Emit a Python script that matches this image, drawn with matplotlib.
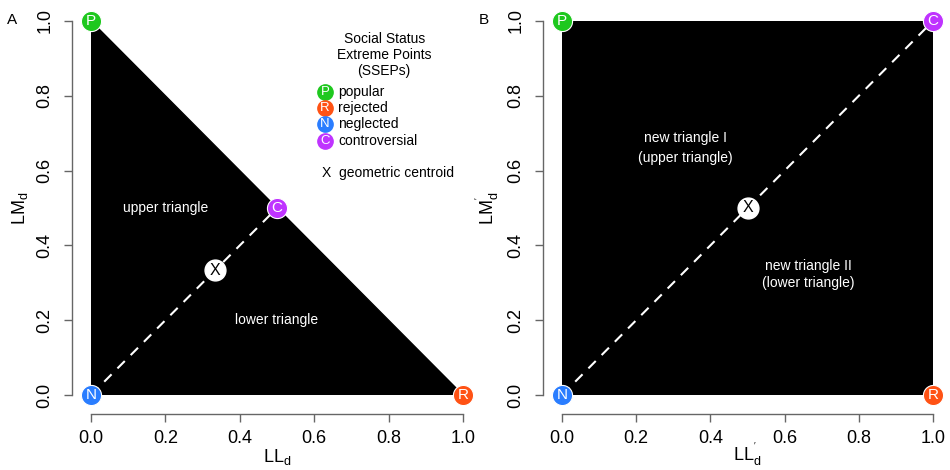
import matplotlib
matplotlib.use("Agg")
import matplotlib.pyplot as plt

plt.rcParams['font.family'] = ['Liberation Sans', 'DejaVu Sans']
plt.rcParams['mathtext.fontset'] = 'custom'
plt.rcParams['mathtext.rm'] = 'Liberation Sans'
plt.rcParams['mathtext.it'] = 'Liberation Sans'

# SSEP labels and colours
ssep_letters = ["P", "R", "N", "C"]
ssep_names = ["popular", "rejected", "neglected", "controversial"]
ssep_colors = ["#1ec81e", "#ff5214", "#2a7dff", "#bf33ff"]

# Panel A coordinates
a_x = [0.0, 1.0, 0.0, 0.5]
a_y = [1.0, 0.0, 0.0, 0.5]
a_poly_x = [0.0, 0.0, 1.0]
a_poly_y = [0.0, 1.0, 0.0]
a_centroid = (1/3, 1/3)
a_diag_x = [0.0, 0.5]
a_diag_y = [0.0, 0.5]

# Panel B coordinates
b_x = [0.0, 1.0, 0.0, 1.0]
b_y = [1.0, 0.0, 0.0, 1.0]
b_poly_x = [0.0, 0.0, 1.0, 1.0]
b_poly_y = [0.0, 1.0, 1.0, 0.0]
b_centroid = (0.5, 0.5)
b_diag_x = [0.0, 1.0]
b_diag_y = [0.0, 1.0]

ticks = [0.0, 0.2, 0.4, 0.6, 0.8, 1.0]
tick_labels = ["0.0", "0.2", "0.4", "0.6", "0.8", "1.0"]

W, H = 950, 470
fig = plt.figure(figsize=(9.5, 4.7), dpi=100)
axA = fig.add_axes([91/W, 75/H, 372/W, 374/H])
axB = fig.add_axes([562/W, 75/H, 371/W, 374/H])

def style(ax):
    ax.set_xlim(0, 1)
    ax.set_ylim(0, 1)
    for s in ["top", "right"]:
        ax.spines[s].set_visible(False)
    for s in ["left", "bottom"]:
        ax.spines[s].set_position(("outward", 14))
        ax.spines[s].set_color("#666666")
        ax.spines[s].set_linewidth(1.0)
    ax.set_xticks(ticks)
    ax.set_xticklabels(tick_labels, fontsize=13)
    ax.set_yticks(ticks)
    ax.set_yticklabels(tick_labels, fontsize=13, rotation=90, va="center")
    ax.tick_params(direction="out", length=6, color="#666666", width=1.0)
    ax.tick_params(axis="x", pad=5)
    ax.tick_params(axis="y", pad=7)
    ax.patch.set_visible(False)

def draw_points(ax, xs, ys, centroid, dx, dy):
    ax.plot(dx, dy, color="white", lw=1.5, ls=(0, (5, 4)), zorder=3)
    for x, y, c, l in zip(xs, ys, ssep_colors, ssep_letters):
        ax.plot(x, y, "o", ms=14.5, color=c, mec="white", mew=0.8, clip_on=False, zorder=5)
        ax.text(x, y, l, color="white", fontsize=11, ha="center", va="center", zorder=6)
    ax.plot(centroid[0], centroid[1], "o", ms=15, color="white", mec="white", zorder=5)
    ax.text(centroid[0], centroid[1], "X", color="black", fontsize=11.5, ha="center", va="center", zorder=6)

# Panel A
style(axA)
axA.fill(a_poly_x, a_poly_y, color="black", zorder=1)
draw_points(axA, a_x, a_y, a_centroid, a_diag_x, a_diag_y)
axA.text(0.20, 0.50, "upper triangle", color="white", fontsize=10, ha="center", va="center")
axA.text(0.50, 0.20, "lower triangle", color="white", fontsize=10, ha="center", va="center")
axA.set_xlabel(r"LL$_\mathregular{d}$", fontsize=13, labelpad=0)
axA.set_ylabel(r"LM$_\mathregular{d}$", fontsize=13, labelpad=5)

# legend text in panel A
axA.text(0.788, 0.952, "Social Status", fontsize=10, ha="center", va="center")
axA.text(0.788, 0.909, "Extreme Points", fontsize=10, ha="center", va="center")
axA.text(0.788, 0.866, "(SSEPs)", fontsize=10, ha="center", va="center")
leg_y = [0.810, 0.767, 0.724, 0.679]
for yy, c, l, n in zip(leg_y, ssep_colors, ssep_letters, ssep_names):
    axA.plot(0.629, yy, "o", ms=11, color=c, zorder=5)
    axA.text(0.629, yy, l, color="white", fontsize=9.5, ha="center", va="center", zorder=6)
    axA.text(0.664, yy, n, fontsize=10, ha="left", va="center")
axA.text(0.632, 0.594, "X", fontsize=10, ha="center", va="center")
axA.text(0.667, 0.594, "geometric centroid", fontsize=10, ha="left", va="center")

# Panel B
style(axB)
axB.fill(b_poly_x, b_poly_y, color="black", zorder=1)
draw_points(axB, b_x, b_y, b_centroid, b_diag_x, b_diag_y)
axB.text(0.332, 0.687, "new triangle I", color="white", fontsize=10, ha="center", va="center")
axB.text(0.332, 0.634, "(upper triangle)", color="white", fontsize=10, ha="center", va="center")
axB.text(0.663, 0.345, "new triangle II", color="white", fontsize=10, ha="center", va="center")
axB.text(0.663, 0.299, "(lower triangle)", color="white", fontsize=10, ha="center", va="center")
axB.set_xlabel(r"LL$^{\mathregular{'}}_{\mathregular{d}}$", fontsize=13, labelpad=-4)
axB.set_ylabel(r"LM$^{\mathregular{'}}_{\mathregular{d}}$", fontsize=13, labelpad=5)

fig.text(12/W, 1 - 20/H, "A", fontsize=11, ha="center", va="center")
fig.text(484/W, 1 - 20/H, "B", fontsize=11, ha="center", va="center")

fig.savefig("out.png", dpi=100)
